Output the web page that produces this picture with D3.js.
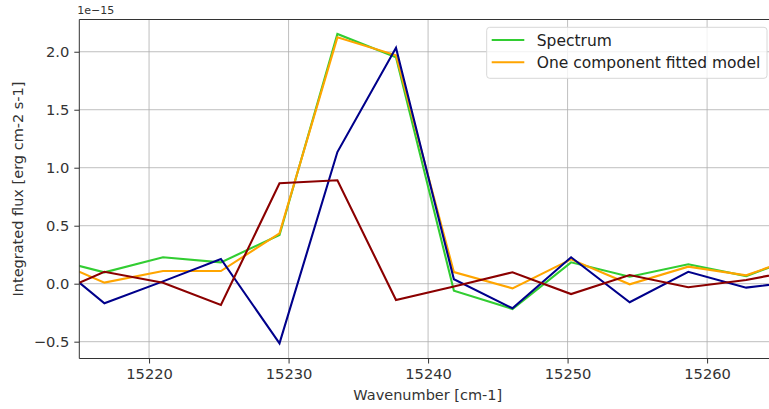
<!DOCTYPE html>
<html>
<head>
<meta charset="utf-8">
<script src="https://cdn.jsdelivr.net/npm/d3@7"></script>
<style>
  body { margin: 0; background: #fff; }
  svg { display: block; font-family: "DejaVu Sans", sans-serif; }
</style>
</head>
<body>
<div id="chart"></div>
<script>
// wavenumbers of the sampled channels [cm-1]
var wavenumber = [15212.6, 15216.8, 15221.0, 15225.15, 15229.35, 15233.5, 15237.7,
                  15241.85, 15246.05, 15250.25, 15254.45, 15258.65, 15262.8, 15267.0];

// integrated flux, in units of 1e-15 erg cm-2 s-1
var spectrum = [0.227, 0.098, 0.228, 0.184, 0.42, 2.153, 1.952,
                -0.06, -0.218, 0.184, 0.06, 0.167, 0.066, 0.254];
var fitted   = [0.229, 0.009, 0.109, 0.109, 0.434, 2.124, 1.97,
                0.1, -0.04, 0.21, -0.005, 0.147, 0.072, 0.252];
var navyLine = [0.247, -0.169, 0.02, 0.213, -0.514, 1.135, 2.034,
                0.038, -0.212, 0.228, -0.16, 0.103, -0.034, 0.026];
var redLine  = [-0.117, 0.103, 0.009, -0.184, 0.866, 0.892, -0.141,
                -0.025, 0.098, -0.089, 0.075, -0.031, 0.032, 0.129];

var xTicks = [15220, 15230, 15240, 15250, 15260];
var yTicks = [-0.5, 0.0, 0.5, 1.0, 1.5, 2.0];

var series = [
    {name: "Spectrum", values: spectrum, color: "#32cd32", legend: true},
    {name: "One component fitted model", values: fitted, color: "#ffa500", legend: true},
    {name: "component a", values: navyLine, color: "#00008b", legend: false},
    {name: "component b", values: redLine, color: "#8b0000", legend: false}
];

var width = 769, height = 409;
var margin = {top: 19.5, left: 79.3};
var innerW = 697, innerH = 339;

var x = d3.scaleLinear().domain([15215, 15264.96]).range([0, innerW]);
var y = d3.scaleLinear().domain([-0.645, 2.278]).range([innerH, 0]);

var svg = d3.select("#chart").append("svg")
    .attr("width", width)
    .attr("height", height);

svg.append("defs").append("clipPath").attr("id", "clip")
    .append("rect").attr("width", innerW).attr("height", innerH);

var g = svg.append("g")
    .attr("transform", "translate(" + margin.left + "," + margin.top + ")");

// grid
g.append("g").selectAll("line").data(xTicks).enter().append("line")
    .attr("x1", d => x(d)).attr("x2", d => x(d))
    .attr("y1", 0).attr("y2", innerH)
    .attr("stroke", "#b0b0b0").attr("stroke-width", 1).attr("opacity", 0.8);
g.append("g").selectAll("line").data(yTicks).enter().append("line")
    .attr("x1", 0).attr("x2", innerW)
    .attr("y1", d => y(d)).attr("y2", d => y(d))
    .attr("stroke", "#b0b0b0").attr("stroke-width", 1).attr("opacity", 0.8);

// lines
var line = d3.line()
    .x((d, i) => x(wavenumber[i]))
    .y(d => y(d));

g.append("g").attr("clip-path", "url(#clip)")
    .selectAll("path").data(series).enter().append("path")
    .attr("d", d => line(d.values))
    .attr("fill", "none")
    .attr("stroke", d => d.color)
    .attr("stroke-width", 2.1)
    .attr("stroke-linejoin", "miter");

// axes
var xAxis = d3.axisBottom(x).tickValues(xTicks).tickFormat(d3.format("d"))
    .tickSize(5).tickPadding(5);
var yAxis = d3.axisLeft(y).tickValues(yTicks).tickFormat(d3.format(".1f"))
    .tickSize(5).tickPadding(5);

var gx = g.append("g").attr("transform", "translate(0," + innerH + ")").call(xAxis);
var gy = g.append("g").call(yAxis);

[gx, gy].forEach(function(a) {
    a.select(".domain").remove();
    a.selectAll(".tick line").attr("stroke", "#333").attr("stroke-width", 1);
    a.selectAll(".tick text").attr("fill", "#333").style("font-size", "14.7px")
        .style("font-family", "DejaVu Sans");
});
gy.selectAll(".tick text").text(d => d < 0 ? "\u2212" + Math.abs(d).toFixed(1) : d.toFixed(1));

// spines (right spine falls outside the picture)
g.append("line").attr("x1", 0).attr("x2", 0).attr("y1", 0).attr("y2", innerH)
    .attr("stroke", "#333").attr("stroke-width", 1);
g.append("line").attr("x1", 0).attr("x2", innerW).attr("y1", innerH).attr("y2", innerH)
    .attr("stroke", "#333").attr("stroke-width", 1);
g.append("line").attr("x1", 0).attr("x2", innerW).attr("y1", 0).attr("y2", 0)
    .attr("stroke", "#333").attr("stroke-width", 1);

// offset text
g.append("text").attr("x", -2).attr("y", -6)
    .style("font-size", "11px").attr("fill", "#333")
    .text("1e\u221215");

// axis labels
svg.append("text")
    .attr("x", margin.left + innerW / 2).attr("y", 400)
    .attr("text-anchor", "middle")
    .style("font-size", "14.5px").attr("fill", "#333")
    .text("Wavenumber [cm-1]");

svg.append("text")
    .attr("transform", "translate(23," + (margin.top + innerH / 2) + ") rotate(-90)")
    .attr("text-anchor", "middle")
    .style("font-size", "14.5px").attr("fill", "#333")
    .text("Integrated flux [erg cm-2 s-1]");

// legend
var leg = svg.append("g").attr("transform", "translate(486.7,27.3)");
leg.append("rect")
    .attr("width", 280.3).attr("height", 51)
    .attr("rx", 3).attr("ry", 3)
    .attr("fill", "#fff").attr("fill-opacity", 0.8)
    .attr("stroke", "#d8d8d8").attr("stroke-width", 1);

var items = leg.selectAll(".item").data(series.filter(d => d.legend)).enter()
    .append("g").attr("class", "item")
    .attr("transform", (d, i) => "translate(0," + (12.7 + i * 22.3) + ")");
items.append("line")
    .attr("x1", 5).attr("x2", 37.6)
    .attr("stroke", d => d.color).attr("stroke-width", 2.1);
items.append("text")
    .attr("x", 50).attr("dy", "0.36em")
    .style("font-size", "15.5px").attr("fill", "#222")
    .text(d => d.name);
</script>
</body>
</html>
